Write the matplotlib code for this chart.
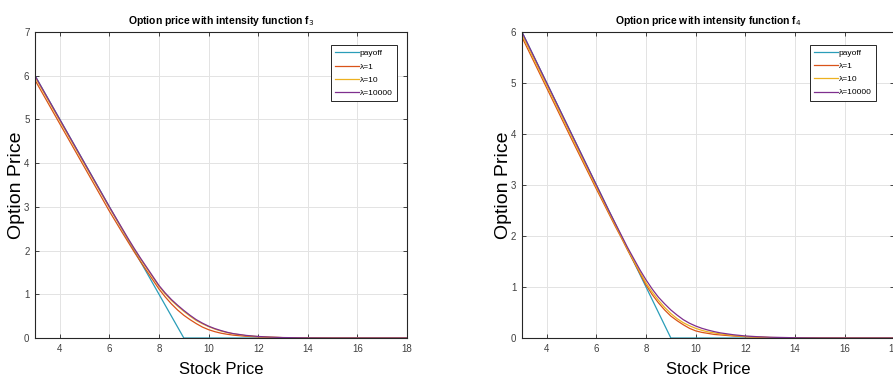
#!/usr/bin/env python3
'''
plot.py

option price against stock price for two intensity functions (f3, f4)
'''

import matplotlib
matplotlib.use('Agg')
import matplotlib.pyplot as plt

# stock price grid and payoff (put, strike 9)
stock = [3, 4, 5, 6,
         6.5, 6.75, 7, 7.25, 7.5, 7.75, 8, 8.25, 8.5, 8.75, 9, 9.25, 9.5,
         9.75, 10, 10.25, 10.5, 10.75, 11,
         11.5, 12, 12.5, 13, 14, 15, 16, 17, 18]
payoff_s = [3, 9, 18]
payoff_v = [6, 0, 0]

# intensity function f3
f3_lam1 = [5.9, 4.9, 3.9, 2.9,
           2.43, 2.2, 1.97, 1.75, 1.54, 1.33, 1.12, 0.94, 0.78, 0.64, 0.52,
           0.42, 0.33, 0.25, 0.19, 0.145, 0.11, 0.085, 0.065,
           0.04, 0.025, 0.015, 0.008, 0.002, 0, 0, 0, 0]
f3_lam10 = [5.97, 4.97, 3.97, 2.98,
            2.5, 2.26, 2.03, 1.81, 1.6, 1.39, 1.18, 1.01, 0.86, 0.73, 0.61,
            0.5, 0.4, 0.325, 0.26, 0.205, 0.16, 0.125, 0.095,
            0.055, 0.032, 0.018, 0.009, 0.003, 0, 0, 0, 0]
f3_lam10000 = [6.0, 5.0, 4.0, 3.0,
               2.52, 2.28, 2.05, 1.83, 1.62, 1.41, 1.2, 1.03, 0.88, 0.75, 0.63,
               0.52, 0.42, 0.34, 0.27, 0.215, 0.17, 0.13, 0.10,
               0.06, 0.035, 0.02, 0.01, 0.003, 0, 0, 0, 0]

# intensity function f4
f4_lam1 = [5.9, 4.9, 3.9, 2.92,
           2.44, 2.2, 1.97, 1.73, 1.5, 1.27, 1.04, 0.85, 0.69, 0.55, 0.43,
           0.34, 0.26, 0.19, 0.14, 0.11, 0.09, 0.07, 0.06,
           0.04, 0.025, 0.015, 0.008, 0.002, 0, 0, 0, 0]
f4_lam10 = [5.95, 4.95, 3.95, 2.96,
            2.47, 2.23, 1.99, 1.75, 1.52, 1.3, 1.08, 0.9, 0.74, 0.6, 0.48,
            0.38, 0.3, 0.24, 0.19, 0.15, 0.12, 0.1, 0.08,
            0.05, 0.03, 0.018, 0.01, 0.003, 0, 0, 0, 0]
f4_lam10000 = [6.0, 5.0, 4.0, 3.0,
               2.5, 2.26, 2.02, 1.78, 1.56, 1.34, 1.14, 0.96, 0.8, 0.67, 0.55,
               0.45, 0.36, 0.29, 0.235, 0.19, 0.155, 0.125, 0.1,
               0.065, 0.04, 0.025, 0.015, 0.005, 0.001, 0, 0, 0]

labels = ['payoff', '\u03bb=1', '\u03bb=10', '\u03bb=10000']
colors = ['#2a9db8', '#d95319', '#edb120', '#7e2f8e']

narrow = ['Liberation Sans Narrow', 'Liberation Sans', 'DejaVu Sans']
wide = ['Liberation Sans', 'DejaVu Sans']


def draw_panel(ax, series, title, ymax, leg_anchor):

    ax.plot(payoff_s, payoff_v, color=colors[0], lw=0.9, label=labels[0])
    for vals, col, lab in zip(series, colors[1:], labels[1:]):
        ax.plot(stock, vals, color=col, lw=0.9, label=lab)

    ax.set_xlim(3, 18)
    ax.set_ylim(0, ymax)
    ax.set_xticks(range(4, 19, 2))
    ax.set_yticks(range(0, ymax + 1))
    ax.grid(True, color='#e3e3e3', lw=0.7)
    ax.set_axisbelow(True)
    ax.tick_params(direction='in', length=3, width=0.6, top=True, right=True,
                   colors='#262626', labelsize=7, pad=4)
    for lab in ax.get_xticklabels() + ax.get_yticklabels():
        lab.set_family(narrow)
        lab.set_color('#404040')
    for sp in ax.spines.values():
        sp.set_color('#262626')
        sp.set_linewidth(0.8)

    ax.set_title(title, family=narrow, fontweight='bold', fontsize=7.5, pad=6)
    ax.set_xlabel('Stock Price', family=narrow, fontsize=12, labelpad=6)
    ax.set_ylabel('Option Price', family=wide, fontsize=14, labelpad=-1)

    leg = ax.legend(loc='upper right', bbox_to_anchor=leg_anchor,
                    prop={'family': narrow, 'size': 6}, handlelength=2.9,
                    handletextpad=0.1, labelspacing=0.65, borderpad=0.5,
                    borderaxespad=0.2,
                    fancybox=False, framealpha=1, edgecolor='#262626')
    leg.get_frame().set_linewidth(0.7)


def main():

    # 1. figure with two panels, right panel runs off the edge
    fig = plt.figure(figsize=(8.93, 3.89), dpi=100)
    ax1 = fig.add_axes([0.0392, 0.1311, 0.4166, 0.7866])
    ax2 = fig.add_axes([0.5845, 0.1311, 0.4168, 0.7866])

    # 2. draw
    draw_panel(ax1, [f3_lam1, f3_lam10, f3_lam10000],
               'Option price with intensity function f$_3$', 7, (0.977, 0.962))
    draw_panel(ax2, [f4_lam1, f4_lam10, f4_lam10000],
               'Option price with intensity function f$_4$', 6, (0.955, 0.964))

    fig.savefig('out.png', dpi=100)


if __name__ == '__main__':
    main()
